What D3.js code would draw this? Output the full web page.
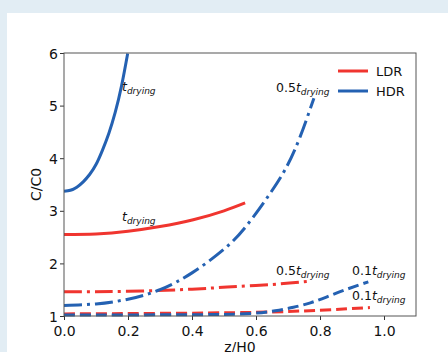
<!DOCTYPE html>
<html>
<head>
<meta charset="utf-8">
<script src="https://cdn.jsdelivr.net/npm/d3@7"></script>
<style>
  body { margin: 0; background: #e2edf4; }
  svg { display: block; font-family: "DejaVu Sans", sans-serif; }
</style>
</head>
<body>
<svg width="448" height="352"></svg>
<script>
// series
const zHdrFull = [0, 0.02, 0.04, 0.06, 0.08, 0.1, 0.12, 0.14, 0.16, 0.18, 0.199];
const cHdrFull = [3.37, 3.39, 3.45, 3.55, 3.69, 3.88, 4.15, 4.47, 4.87, 5.38, 5.99];

const zHdrHalf = [0, 0.1, 0.2, 0.3, 0.4, 0.5, 0.571, 0.644, 0.696, 0.738, 0.781];
const cHdrHalf = [1.2, 1.23, 1.32, 1.5, 1.82, 2.27, 2.72, 3.33, 3.84, 4.41, 5.14];

const zHdrTenth = [0, 0.2, 0.4, 0.5, 0.59, 0.66, 0.717, 0.77, 0.82, 0.88, 0.951];
const cHdrTenth = [1.02, 1.02, 1.025, 1.03, 1.05, 1.1, 1.165, 1.25, 1.36, 1.5, 1.65];

const zLdrFull = [0, 0.1, 0.2, 0.3, 0.404, 0.5, 0.566];
const cLdrFull = [2.55, 2.56, 2.61, 2.7, 2.83, 3.0, 3.15];

const zLdrHalf = [0, 0.2, 0.4, 0.51, 0.65, 0.77];
const cLdrHalf = [1.46, 1.47, 1.51, 1.55, 1.6, 1.665];

const zLdrTenth = [0, 0.3, 0.6, 0.8, 0.956];
const cLdrTenth = [1.04, 1.05, 1.07, 1.11, 1.16];

const xTicks = [0, 0.2, 0.4, 0.6, 0.8, 1.0];
const yTicks = [1, 2, 3, 4, 5, 6];

const red = "#f0352f";
const blue = "#2461b2";

const svg = d3.select("svg");
const width = +svg.attr("width");
const height = +svg.attr("height");

// white panel
svg.append("rect").attr("x", 7).attr("y", 13)
  .attr("width", width - 7).attr("height", height - 13).attr("fill", "#fff");

const margin = {top: 53, right: 32, bottom: 36, left: 64};
const innerWidth = width - margin.left - margin.right;
const innerHeight = height - margin.top - margin.bottom;

const g = svg.append("g").attr("transform", `translate(${margin.left},${margin.top})`);

const x = d3.scaleLinear().domain([0, 1.1]).range([0, innerWidth]);
const y = d3.scaleLinear().domain([1, 6]).range([innerHeight, 0]);

const dashDot = "18,5,3,5";
const dashed = "11,5";
const series = [
  {z: zHdrFull, c: cHdrFull, color: blue, dash: null},
  {z: zHdrHalf, c: cHdrHalf, color: blue, dash: dashDot},
  {z: zHdrTenth, c: cHdrTenth, color: blue, dash: dashed},
  {z: zLdrFull, c: cLdrFull, color: red, dash: null},
  {z: zLdrHalf, c: cLdrHalf, color: red, dash: dashDot},
  {z: zLdrTenth, c: cLdrTenth, color: red, dash: dashed}
];

const line = d3.line()
  .x(d => x(d[0]))
  .y(d => y(d[1]))
  .curve(d3.curveNatural);

g.append("clipPath").attr("id", "clip")
  .append("rect").attr("width", innerWidth).attr("height", innerHeight + 2).attr("y", -1);

const plot = g.append("g").attr("clip-path", "url(#clip)");
// red first so blue sits over it where they cross
[3, 4, 5, 0, 1, 2].forEach(i => {
  const s = series[i];
  plot.append("path")
    .datum(s.z.map((z, k) => [z, s.c[k]]))
    .attr("d", line)
    .attr("fill", "none")
    .attr("stroke", s.color)
    .attr("stroke-width", 3)
    .attr("stroke-dasharray", s.dash);
});

// axes
const xAxis = g.append("g").attr("transform", `translate(0,${innerHeight})`)
  .call(d3.axisBottom(x).tickValues(xTicks).tickFormat(d3.format(".1f")).tickSizeOuter(0).tickSize(4));
const yAxis = g.append("g")
  .call(d3.axisLeft(y).tickValues(yTicks).tickFormat(d3.format("d")).tickSizeOuter(0).tickSize(4));
[xAxis, yAxis].forEach(a => {
  a.select(".domain").remove();
  a.selectAll("line").attr("stroke", "#333");
  a.selectAll("text").attr("fill", "#111").style("font-size", "14px")
    .style("font-family", "DejaVu Sans, sans-serif");
});
xAxis.selectAll("text").attr("dy", "0.95em");
yAxis.selectAll("text").attr("dy", "0.36em").attr("x", -6);

g.append("rect").attr("width", innerWidth).attr("height", innerHeight)
  .attr("fill", "none").attr("stroke", "#555").attr("stroke-width", 1);

// axis labels
svg.append("text")
  .attr("transform", `translate(41,${margin.top + innerHeight / 2}) rotate(-90)`)
  .attr("text-anchor", "middle").style("font-size", "14px").attr("fill", "#111")
  .text("C/C0");
svg.append("text")
  .attr("x", margin.left + x(0.55)).attr("y", 352)
  .attr("text-anchor", "middle").style("font-size", "14px").attr("fill", "#111")
  .text("z/H0");

// curve annotations
const notes = [
  {pre: "", x: 122, y: 91},
  {pre: "", x: 122, y: 221},
  {pre: "0.5", x: 276, y: 92},
  {pre: "0.5", x: 276, y: 275},
  {pre: "0.1", x: 352, y: 275},
  {pre: "0.1", x: 352, y: 300}
];
notes.forEach(n => {
  const t = svg.append("text").attr("x", n.x).attr("y", n.y)
    .style("font-size", "12.5px").attr("fill", "#111");
  if (n.pre) t.append("tspan").text(n.pre);
  t.append("tspan").style("font-style", "italic").text("t");
  t.append("tspan").style("font-style", "italic").style("font-size", "9px")
    .attr("dy", 3).text("drying");
});

// legend
const legend = svg.append("g").attr("transform", "translate(338,71)");
[["LDR", red], ["HDR", blue]].forEach(([name, col], i) => {
  const row = legend.append("g").attr("transform", `translate(0,${i * 20})`);
  row.append("line").attr("x1", 0).attr("x2", 30)
    .attr("stroke", col).attr("stroke-width", 3);
  row.append("text").attr("x", 38).attr("dy", "0.36em")
    .style("font-size", "13px").attr("fill", "#111").text(name);
});
</script>
</body>
</html>
